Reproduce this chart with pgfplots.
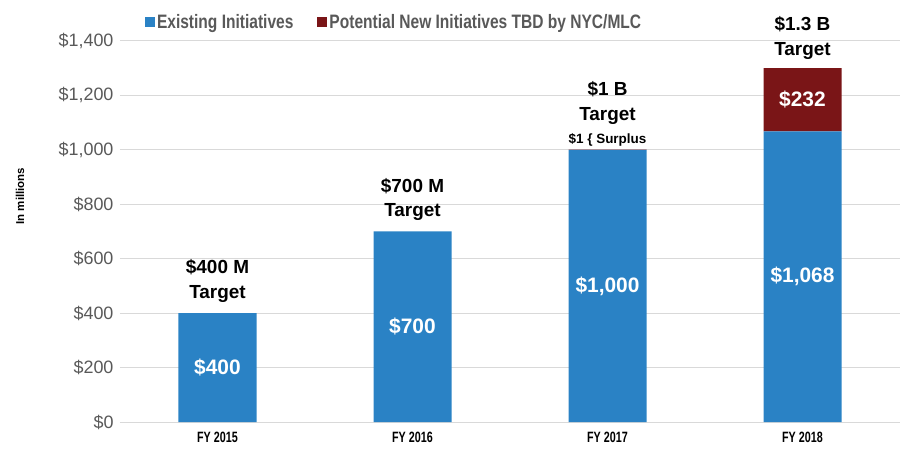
\documentclass[border=0pt]{standalone}
\usepackage{fontspec}
\setmainfont{Liberation Sans}
\newfontfamily\condfont{Liberation Sans Bold}[FakeStretch=0.72]
\newfontfamily\semicond{Liberation Sans Bold}[FakeStretch=0.8]
\usepackage{pgfplots}
\pgfplotsset{compat=1.18}
\usetikzlibrary{calc}
\definecolor{barblue}{HTML}{2A82C5}
\definecolor{barred}{HTML}{7A1517}
\definecolor{ticktext}{HTML}{595959}
\definecolor{gridgray}{HTML}{D9D9D9}

\begin{document}
\begin{tikzpicture}
\begin{axis}[
    name=ax,
    scale only axis,
    width=780bp, height=381bp,
    ybar stacked,
    bar width=78bp,
    xmin=-0.5, xmax=3.5,
    ymin=0, ymax=1400,
    clip=false,
    xtick=data,
    xticklabels={FY 2015, FY 2016, FY 2017, FY 2018},
    ytick={0,200,...,1400},
    yticklabels={\$0,\$200,\$400,\$600,\$800,{\$1,000},{\$1,200},{\$1,400}},
    ymajorgrids=true,
    grid style={gridgray, line width=1bp},
    axis line style={draw=none},
    major tick length=0pt,
    yticklabel style={font=\fontsize{18}{20}\selectfont, text=ticktext, xshift=-3bp},
    xticklabel style={font=\condfont\fontsize{15}{17}\selectfont, yshift=-7bp},
    legend style={at={(axis description cs:0.028,1.05)}, anchor=west, draw=none,
        font=\semicond\fontsize{19.5}{21}\selectfont, text=ticktext,
        /tikz/every even column/.append style={column sep=22bp}},
    legend columns=2,
    legend image code/.code={\fill[#1] (0bp,-5bp) rectangle (10bp,5bp);},
]
\addplot[fill=barblue, draw=none] coordinates {(0,400)(1,700)(2,1000)(3,1068)};
\addlegendentry{Existing Initiatives}
\addplot[fill=barred, draw=none] coordinates {(0,0)(1,0)(2,1)(3,232)};
\addlegendentry{Potential New Initiatives TBD by NYC/MLC}

% target labels above bars
\node[anchor=south, align=center, font=\bfseries\fontsize{19}{25}\selectfont, yshift=7bp] at (axis cs:0,400) {\$400 M\\Target};
\node[anchor=south, align=center, font=\bfseries\fontsize{19}{25}\selectfont, yshift=7bp] at (axis cs:1,700) {\$700 M\\Target};
\node[anchor=south, font=\bfseries\fontsize{13.5}{15}\selectfont, yshift=0bp] at (axis cs:2,1000) {\$1 \{ Surplus};
\node[anchor=south, align=center, font=\bfseries\fontsize{19}{25}\selectfont, yshift=22bp] at (axis cs:2,1000) {\$1 B\\Target};
\node[anchor=south, align=center, font=\bfseries\fontsize{19}{25}\selectfont, yshift=5bp] at (axis cs:3,1300) {\$1.3 B\\Target};

% anchors for value labels (drawn after the axis, over the bars)
\coordinate (v0) at (axis cs:0,200);
\coordinate (v1) at (axis cs:1,350);
\coordinate (v2) at (axis cs:2,500);
\coordinate (v3) at (axis cs:3,534);
\coordinate (v4) at (axis cs:3,1184);

\node[rotate=90, font=\bfseries\fontsize{11.5}{13}\selectfont] at (axis description cs:-0.128,0.593) {In millions};
\end{axis}
\foreach \p/\t in {v0/\$400, v1/\$700, v2/{\$1,000}, v3/{\$1,068}, v4/\$232}
  \node[text=white, font=\bfseries\fontsize{21}{23}\selectfont] at (\p) {\t};
\pgfresetboundingbox
\path[use as bounding box] ($(ax.south west)+(-120bp,-51bp)$) rectangle ($(ax.north east)+(8bp,41bp)$);
\end{tikzpicture}
\end{document}
